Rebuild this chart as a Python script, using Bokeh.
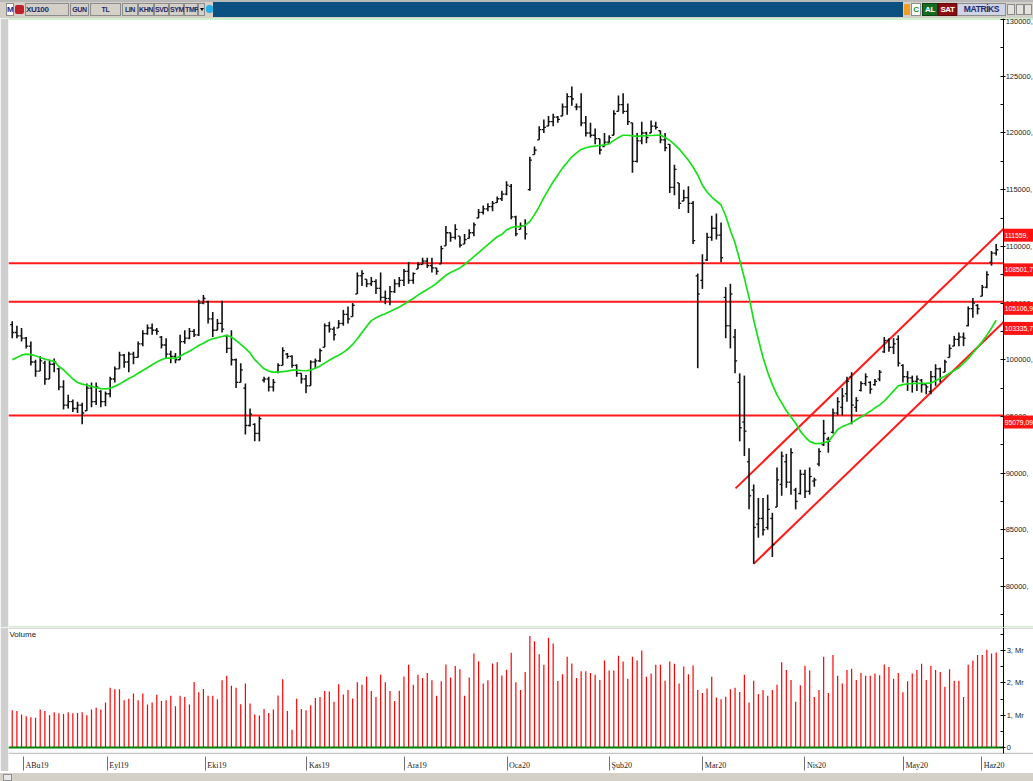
from bokeh.plotting import figure
from bokeh.models import (Range1d, FixedTicker, Label, LabelSet, ColumnDataSource, Div,
                          LinearAxis)
from bokeh.core.properties import value
from bokeh.layouts import column
from bokeh.embed import file_html
from bokeh.resources import INLINE

# ---------------- data ----------------
opens = [
    103100, 102400, 102100, 101900, 101200, 99800, 99000, 99700, 98300, 99600,
    99200, 97600, 96000, 96300, 95700, 96000, 95500, 97500, 96300, 97200,
    96300, 97000, 98300, 99200, 100400, 99800, 100500, 100200, 101400, 102300,
    102800, 102600, 102000, 101300, 100500, 100300, 100000, 101600, 101900, 102500,
    102200, 105000, 105100, 103600, 102600, 103200, 102100, 101000, 100000, 98000,
    97500, 94200, 94300, 93500, 98200, 98300, 97600, 98900, 99500, 100500,
    100300, 99500, 98800, 98300, 97700, 99800, 99900, 101100, 103000, 102700,
    102800, 103200, 104000, 103800, 105800, 107400, 107100, 106700, 106900, 106300,
    105500, 105400, 106000, 106700, 107000, 107800, 107000, 108000, 108400, 108700,
    108300, 108100, 108450, 110050, 111200, 110800, 110900, 110200, 110700, 111200,
    112500, 113000, 113300, 113500, 113850, 114200, 114600, 115300, 112600, 111500,
    111800, 115000, 118100, 119400, 120300, 120600, 121000, 121400, 121500, 122300,
    123200, 122300, 122300, 120900, 120000, 119800, 119500, 118800, 119200, 119800,
    121900, 122500, 121900, 120900, 117500, 119300, 120000, 120000, 120600, 120200,
    119400, 119000, 115200, 115600, 114000, 114300, 113800, 107400, 107000, 108800,
    110800, 111600, 111000, 105500, 103000, 102000, 98000, 94500, 91000, 88500,
    85500, 86000, 85200, 86000, 87000, 89000, 91000, 89200, 88500, 88200,
    89900, 88400, 89300, 90800, 92500, 93000, 93600, 95300, 95800, 97000,
    98500, 95800, 97300, 97900, 98000, 97800, 98300, 100700, 101700, 101100,
    101800, 99500, 98500, 98400, 98100, 98200, 97800, 97200, 98500, 99200,
    98900, 100200, 101200, 101800, 102000, 103000, 104500, 104800, 105600, 106400,
    108600, 109400,
]
highs = [
    103400, 103000, 102800, 102000, 101600, 100000, 100300, 99900, 100000, 100100,
    99300, 98200, 96900, 96500, 96300, 96200, 97900, 98000, 98000, 97300,
    97200, 98500, 99400, 100700, 100500, 100700, 100700, 101600, 102600, 103100,
    103200, 102800, 102100, 101900, 100800, 100600, 102200, 102600, 102800, 102700,
    105300, 105700, 105200, 104200, 103600, 105200, 102200, 102600, 100100, 99700,
    97900, 95700, 94400, 95000, 98500, 98500, 98300, 99700, 101100, 100600,
    100400, 99600, 98800, 98650, 99950, 100100, 101000, 103200, 103350, 102900,
    103500, 104400, 104700, 105000, 107700, 107900, 107100, 107300, 107100, 107700,
    106100, 106500, 107100, 107300, 108000, 108600, 107700, 108600, 109000, 109000,
    109000, 108100, 110050, 111800, 111200, 111950, 110900, 111100, 111500, 112100,
    113300, 113600, 113800, 114000, 114400, 114900, 115750, 115500, 112700, 112100,
    112400, 117900, 118800, 120600, 121200, 121500, 121700, 121500, 122600, 123500,
    124100, 122600, 123500, 121500, 120900, 120400, 119500, 120000, 119800, 122000,
    123300, 123500, 122600, 120900, 120000, 121000, 120100, 121100, 121000, 120200,
    120000, 119000, 117200, 115600, 115000, 115300, 114000, 107600, 109300, 111200,
    112700, 112900, 112100, 106400, 106700, 102700, 98800, 98600, 92200, 89000,
    87800, 87800, 88100, 86500, 90500, 91900, 91700, 92200, 88700, 90300,
    90300, 90500, 89600, 92200, 94700, 93200, 95700, 96700, 97500, 98500,
    98900, 96700, 98100, 98800, 98100, 98300, 99100, 102000, 101900, 101900,
    102150, 99600, 99000, 98600, 98600, 98300, 97800, 99000, 99600, 99300,
    100000, 101350, 102100, 102400, 102400, 104700, 105450, 104900, 106600, 107800,
    109600, 110200,
]
lows = [
    101900, 101900, 101600, 101000, 99500, 98500, 99000, 97800, 98300, 98900,
    97300, 95600, 95700, 95400, 95300, 94300, 95500, 95800, 96000, 95800,
    95900, 96700, 98000, 99200, 99300, 98900, 99600, 100200, 101200, 102200,
    102200, 102200, 101000, 100100, 99700, 99700, 100000, 101400, 101800, 102000,
    102100, 104900, 103200, 102000, 102600, 102400, 100600, 99500, 97500, 98000,
    93400, 94100, 92800, 92800, 98000, 97200, 97200, 98800, 99500, 100100,
    99300, 98500, 97900, 97050, 97700, 99200, 99800, 101100, 102400, 101700,
    102800, 103000, 103200, 103800, 105800, 106500, 106400, 106500, 105800, 105200,
    104900, 104800, 105900, 106400, 106500, 106700, 106700, 108000, 108400, 108100,
    107700, 107500, 108450, 110050, 110400, 110600, 109900, 110200, 110700, 110900,
    112500, 112800, 113100, 113100, 113850, 114000, 114500, 112400, 110900, 111500,
    110600, 114900, 118100, 119400, 120000, 120600, 120600, 120900, 121500, 121600,
    122400, 122000, 120600, 119700, 119600, 119000, 118100, 118800, 119000, 119800,
    121900, 121700, 120700, 116500, 117400, 119000, 119100, 120000, 120300, 119100,
    118400, 114700, 114500, 113300, 114000, 112950, 110200, 99250, 106250, 108700,
    110500, 110600, 108600, 101900, 101000, 98800, 92800, 91500, 86800, 82000,
    84300, 84500, 85000, 82600, 87000, 88000, 88700, 88100, 86800, 88100,
    87800, 88100, 88800, 90600, 92400, 91800, 93500, 95100, 95100, 96300,
    94300, 95400, 97200, 97700, 97000, 97700, 98100, 100600, 100700, 100500,
    99400, 98000, 97250, 97100, 97250, 97100, 96950, 96950, 97700, 98000,
    98900, 100200, 101200, 101200, 101200, 102950, 103700, 104000, 105600, 106300,
    108300, 109200,
]
closes = [
    102400, 102100, 101900, 101200, 99800, 99000, 99900, 98300, 99600, 99800,
    97600, 96000, 96300, 95700, 96000, 95300, 97500, 96300, 97600, 96300,
    97000, 98300, 99200, 100400, 99800, 100500, 100200, 101400, 102300, 102800,
    102600, 102500, 101300, 100500, 100300, 100000, 101600, 101900, 102500, 102200,
    105000, 105400, 103600, 102600, 103200, 102700, 101000, 100000, 98000, 99100,
    94200, 95200, 93500, 94800, 98300, 97600, 98000, 99500, 100800, 100300,
    99500, 98800, 98300, 97700, 99800, 99900, 100800, 103000, 102700, 102200,
    103200, 104000, 103600, 104800, 107400, 107600, 106700, 106900, 106300, 105500,
    105400, 106000, 106700, 107000, 107800, 107000, 107600, 108400, 108700, 108300,
    108100, 107800, 109800, 111200, 110800, 111500, 110100, 110600, 111200, 111900,
    113000, 113300, 113500, 113800, 114200, 114600, 115400, 112600, 111100, 111800,
    111100, 117600, 118500, 120300, 120500, 121000, 121400, 121200, 122300, 123200,
    123000, 122300, 120900, 120000, 119800, 119500, 118500, 119200, 119600, 121700,
    122500, 121900, 121000, 117500, 119300, 120000, 119600, 120600, 120500, 119400,
    118700, 115200, 116800, 113800, 114300, 113800, 110500, 105800, 108500, 110800,
    111600, 111000, 109000, 103000, 105800, 99900, 94000, 93700, 88000, 85200,
    86000, 85000, 86800, 83700, 89400, 91500, 89200, 91800, 87500, 89900,
    88400, 89700, 89400, 91900, 93500, 92800, 95300, 96300, 96800, 98100,
    96000, 96400, 97900, 98500, 97400, 98100, 98900, 101700, 101100, 101400,
    99700, 98500, 98400, 98100, 98300, 97800, 97600, 98500, 99200, 98400,
    99800, 101000, 101800, 102000, 101900, 104500, 105000, 104500, 106400, 107500,
    109400, 109700,
]
moving_avg = [
    100000, 100200, 100400, 100500, 100450, 100350, 100200, 100050, 99950, 99850,
    99400, 99100, 98700, 98300, 98000, 97850, 97750, 97650, 97550, 97450,
    97430, 97480, 97650, 97850, 98100, 98350, 98550, 98800, 99050, 99300,
    99550, 99800, 100000, 100150, 100150, 100120, 100300, 100550, 100750, 101000,
    101250, 101450, 101700, 101850, 101950, 102050, 102150, 102000, 101700, 101350,
    101000, 100600, 100000, 99600, 99200, 99000, 98900, 98900, 98950, 99000,
    99090, 99090, 99050, 99030, 99090, 99250, 99450, 99700, 99950, 100200,
    100400, 100650, 100950, 101350, 101850, 102400, 102950, 103450, 103700, 103900,
    104050, 104250, 104450, 104650, 104900, 105150, 105400, 105700, 105950, 106200,
    106450, 106750, 107100, 107450, 107700, 107900, 108100, 108400, 108750, 109100,
    109450, 109800, 110150, 110500, 110850, 111050, 111450, 111650, 111750, 111750,
    111850, 112200, 112800, 113500, 114300, 115000, 115700, 116300, 116900, 117400,
    117900, 118250, 118550, 118700, 118800, 118850, 118900, 118950, 119050, 119350,
    119600, 119800, 119800, 119750, 119700, 119750, 119760, 119780, 119800, 119820,
    119600, 119350, 119000, 118600, 118100, 117600, 117000, 116300, 115400, 114800,
    114350, 114000, 113650, 112700, 111400, 110300, 108800, 107200, 105500, 103500,
    101800, 100200, 98900, 97800, 96900, 96200, 95500, 94950, 94400, 93700,
    93200, 92800, 92620, 92600, 92680, 92800, 93300, 93850, 94100, 94260,
    94450, 94700, 94950, 95200, 95450, 95750, 96020, 96350, 96800, 97250,
    97690, 97800, 97880, 97900, 97920, 97920, 97920, 97950, 98150, 98360,
    98550, 98800, 99050, 99300, 99700, 100100, 100600, 101100, 101600, 102170,
    102800, 103480,
]
volumes_mr = [
    1.15, 1.13, 1.02, 0.97, 0.94, 0.92, 1.18, 1.13, 1.00, 1.09,
    1.06, 1.04, 1.09, 1.06, 1.07, 1.09, 1.00, 1.18, 1.23, 1.18,
    1.39, 1.85, 1.80, 1.80, 1.46, 1.51, 1.67, 1.46, 1.67, 1.33,
    1.39, 1.63, 1.44, 1.46, 1.60, 1.28, 1.60, 1.56, 1.33, 2.03,
    1.71, 1.81, 1.60, 1.60, 1.49, 2.08, 2.22, 1.91, 1.85, 1.34,
    1.98, 1.36, 1.02, 0.99, 1.19, 1.07, 1.18, 1.61, 2.11, 1.13,
    0.55, 1.51, 1.19, 1.15, 1.31, 1.53, 1.56, 1.75, 1.73, 1.42,
    1.96, 1.64, 1.78, 1.52, 2.02, 1.94, 2.20, 1.75, 1.56, 2.25,
    2.02, 1.75, 1.44, 1.76, 2.20, 2.56, 1.94, 2.25, 2.15, 2.31,
    2.08, 1.60, 2.05, 2.57, 2.17, 2.52, 2.42, 1.60, 2.17, 2.91,
    2.67, 1.98, 2.08, 2.60, 2.64, 2.23, 2.41, 2.93, 2.02,
    1.78, 2.34, 3.45, 3.29, 2.89, 2.56, 3.40, 3.22, 2.06, 2.27,
    2.81, 2.60, 2.15, 2.36, 2.36, 2.31, 2.25, 2.09, 2.69, 2.38,
    2.38, 2.84, 2.66, 2.13, 2.81, 2.69, 3.00, 2.19, 2.29, 2.56,
    2.56, 2.07, 2.66, 2.59, 1.98, 2.51, 2.27, 2.54, 1.78, 1.69,
    1.83, 2.19, 1.55, 1.49, 1.57, 1.80, 1.85, 1.72, 2.25, 1.39,
    2.07, 1.66, 1.78, 1.60, 1.78, 1.94, 2.64, 2.40, 2.09, 1.42,
    1.93, 2.53, 2.38, 1.56, 1.78, 2.81, 1.69, 2.86, 2.22, 1.98,
    2.40, 2.44, 2.09, 2.31, 2.22, 2.22, 2.29, 2.24, 2.57, 2.49,
    2.13, 2.31, 1.71, 2.05, 2.29, 2.40, 2.59, 2.09, 2.53, 2.40,
    2.34, 1.88, 2.42, 2.07, 2.07, 1.56, 2.56, 2.69, 2.86, 2.86,
    3.03, 2.91, 2.94,
]
month_labels = ["ABu19", "Eyl19", "Eki19", "Kas19", "Ara19", "Oca20",
                "Şub20", "Mar20", "Nis20", "May20", "Haz20"]
month_ticks = [2.4, 20.4, 41.4, 63.2, 84.2, 106.1, 128.1, 148.1, 170.0, 191.1, 207.9]
price_ticks = [80000, 85000, 90000, 95000, 100000, 105000, 110000, 115000, 120000, 125000, 130000]
price_tick_labels = ["80000,", "85000,", "90000,", "95000,", "100000,", "105000,",
                     "110000,", "115000,", "120000,", "125000,", "130000,"]
volume_ticks = [0, 1, 2, 3]
volume_tick_labels = ["0", "1, Mr", "2, Mr", "3, Mr"]
level_values = [108501.7, 105106.9, 95079.09]
channel_x0 = [155.1, 159.0]
channel_y0 = [88650, 82000]
channel_x1 = [212.6, 212.6]
channel_y1 = [111559, 103335.7]
tag_values = [111559, 108501.7, 105106.9, 103335.7, 95079.09]
tag_texts = ["111559,", "108501,7", "105106,9", "103335,7", "95079,09"]
header_left = ["XU100", "GUN", "TL", "LIN", "KHN", "SVD", "SYM", "TMP"]
header_right = ["AL", "SAT", "MATRİKS"]

n = len(closes)
assert len(opens) == n and len(highs) == n and len(lows) == n
assert len(moving_avg) == n and len(volumes_mr) == n

FONT = "Liberation Sans"
idx = list(range(n))
AXIS_X = 212.6                      # where the price scale sits (bar-index units)
x_range = Range1d(-0.8, 219.0)
y_range = Range1d(76380, 130100)
MAIN_H = 609
UNITS_PER_PX = (y_range.end - y_range.start) / MAIN_H

# ---------------- header (toolbar strip) ----------------
def box(left, width, text, bg="#d4d0c8", fg="#1b2a6b", border="#8c8c8c",
        align="center", size=7.5):
    return (f'<div style="position:absolute;left:{left}px;top:3px;width:{width}px;height:13px;'
            f'background:{bg};color:{fg};border:1px solid {border};box-sizing:border-box;'
            f'font-weight:bold;font-size:{size}px;letter-spacing:-0.4px;text-align:{align};'
            f'line-height:11px;white-space:nowrap;">{text}</div>')

lpos = [(25, 44), (70, 19), (90, 31), (122, 16), (138, 16), (154, 15), (169, 15), (184, 14)]
parts = ['<div style="position:relative;width:1033px;height:18px;background:#d4d0c8;overflow:hidden;'
         f"font-family:'{FONT}',sans-serif;\">",
         '<div style="position:absolute;left:0;top:0;width:1033px;height:2px;background:#b8b8b8;"></div>',
         '<div style="position:absolute;left:213px;top:2px;width:690px;height:15px;background:#0b5080;"></div>',
         box(6, 8, "M", bg="#ffffff", fg="#1b2a8b", size=8),
         '<div style="position:absolute;left:15px;top:5px;width:9px;height:9px;background:#c0202a;border-radius:2px;"></div>']
for (l, w), t in zip(lpos, header_left):
    parts.append(box(l, w, t, align="left" if t == "XU100" else "center",
                     size=8 if t == "XU100" else 7))
parts.append('<div style="position:absolute;left:198px;top:3px;width:7px;height:13px;background:#d4d0c8;'
             'border:1px solid #8c8c8c;box-sizing:border-box;"><div style="margin:4px auto 0 auto;width:0;height:0;'
             'border-left:2px solid transparent;border-right:2px solid transparent;border-top:3px solid #000;"></div></div>')
parts.append('<div style="position:absolute;left:206px;top:5px;width:7px;height:8px;background:#2ab0e8;border-radius:3px;"></div>')
parts.append('<div style="position:absolute;left:904px;top:4px;width:6px;height:11px;background:#f0a020;"></div>')
parts.append(box(911, 10, "C", bg="#ffffff", fg="#1a8a2a", size=8))
parts.append(box(922, 16, header_right[0], bg="#146b24", fg="#ffffff", border="#0c4416", size=8))
parts.append(box(938, 19, header_right[1], bg="#8e0f12", fg="#ffffff", border="#5c0a0c", size=8))
parts.append(box(957, 49, header_right[2], bg="#cfd3e6", fg="#1b2a6b", size=8.5))
for l in (1007, 1016, 1024):
    parts.append(f'<div style="position:absolute;left:{l}px;top:4px;width:8px;height:11px;'
                 'background:#e4e2dc;border:1px solid #8c8c8c;box-sizing:border-box;"></div>')
parts.append('</div>')
header = Div(text="".join(parts), width=1033, height=18, margin=(0, 0, 0, 0))

# ---------------- price panel ----------------
p = figure(width=1033, height=MAIN_H, x_range=x_range, y_range=y_range,
           output_backend="svg", toolbar_location=None, x_axis_location=None,
           y_axis_location=None, min_border_left=8, min_border_right=0,
           min_border_top=0, min_border_bottom=0)
p.xgrid.visible = False
p.ygrid.visible = False
p.outline_line_color = None
p.border_fill_color = "#cfcfcf"
p.background_fill_color = "white"

start = x_range.start
# light green frame lines top and bottom
p.segment(x0=[start, start], y0=[y_range.end, y_range.start], x1=[x_range.end, x_range.end],
          y1=[y_range.end, y_range.start], line_color="#9fe09f", line_width=2)

yax = LinearAxis(fixed_location=AXIS_X)
yax.ticker = FixedTicker(ticks=price_ticks, minor_ticks=[t + 2500 for t in price_ticks[:-1]] + [77500])
yax.major_label_overrides = dict(zip(price_ticks, price_tick_labels))
yax.major_label_text_font = FONT
yax.major_label_text_font_size = "7.5px"
yax.major_label_text_color = "#222222"
yax.major_label_standoff = 0
yax.major_tick_in = 3
yax.major_tick_out = 2
yax.minor_tick_in = 3
yax.minor_tick_out = 0
yax.axis_line_color = "#000000"
p.add_layout(yax, "right")

p.segment(x0=[start] * len(level_values), y0=level_values,
          x1=[AXIS_X] * len(level_values), y1=level_values,
          line_color="#ff1a1a", line_width=2)
p.segment(x0=channel_x0, y0=channel_y0, x1=channel_x1, y1=channel_y1,
          line_color="#ff1a1a", line_width=2)

src = ColumnDataSource(dict(x=idx, xl=[i - 0.45 for i in idx], xr=[i + 0.45 for i in idx],
                            o=opens, h=highs, l=lows, c=closes))
p.segment("x", "l", "x", "h", source=src, line_color="#111111", line_width=1.6)
p.segment("xl", "o", "x", "o", source=src, line_color="#111111", line_width=1.3)
p.segment("x", "c", "xr", "c", source=src, line_color="#111111", line_width=1.3)

p.line(idx, moving_avg, line_color="#18e018", line_width=1.7)

# red price tags at the right edge, drawn above the scale
tag_h = 13 * UNITS_PER_PX
tsrc = ColumnDataSource(dict(left=[AXIS_X] * len(tag_values), right=[x_range.end] * len(tag_values),
                             top=tag_values, bottom=[v - tag_h for v in tag_values],
                             mid=[v - tag_h / 2 for v in tag_values], t=tag_texts))
p.quad(left="left", right="right", top="top", bottom="bottom", source=tsrc,
       fill_color="#ff1414", line_color=None, level="overlay")
p.text(x="left", y="mid", text="t", source=tsrc, x_offset=1, text_font=value(FONT),
       text_font_size="6.8px", text_color="white", text_baseline="middle",
       text_align="left", level="overlay")

# ---------------- volume panel ----------------
pv = figure(width=1033, height=144, x_range=x_range, y_range=Range1d(-0.743, 3.715),
            output_backend="svg", toolbar_location=None, x_axis_location=None,
            y_axis_location=None, min_border_left=8, min_border_right=0,
            min_border_top=0, min_border_bottom=0)
pv.xgrid.visible = False
pv.ygrid.visible = False
pv.outline_line_color = None
pv.border_fill_color = "#cfcfcf"
pv.background_fill_color = "white"

pv.segment(x0=idx, y0=[0] * n, x1=idx, y1=volumes_mr, line_color="#ff0000", line_width=1.2)
pv.segment(x0=[start], y0=[0], x1=[AXIS_X], y1=[0], line_color="#008000", line_width=2)
pv.segment(x0=[start], y0=[-0.18], x1=[x_range.end], y1=[-0.18], line_color="#b4b4b4", line_width=1)
pv.segment(x0=[start], y0=[3.70], x1=[x_range.end], y1=[3.70], line_color="#b4b4b4", line_width=1)

vax = LinearAxis(fixed_location=AXIS_X, bounds=(-0.18, 3.715))
vax.ticker = FixedTicker(ticks=volume_ticks, minor_ticks=[0.5, 1.5, 2.5, 3.5])
vax.major_label_overrides = dict(zip(volume_ticks, volume_tick_labels))
vax.major_label_text_font = FONT
vax.major_label_text_font_size = "7.5px"
vax.major_label_text_color = "#222222"
vax.major_label_standoff = 1
vax.major_tick_in = 3
vax.major_tick_out = 2
vax.minor_tick_in = 3
vax.minor_tick_out = 0
vax.axis_line_color = "#000000"
pv.add_layout(vax, "right")

xax = LinearAxis(fixed_location=-0.28)
xax.ticker = FixedTicker(ticks=month_ticks)
xax.major_label_text_color = None
xax.major_tick_in = 0
xax.major_tick_out = 14
xax.minor_tick_line_color = None
xax.major_tick_line_color = "#707070"
xax.axis_line_color = None
pv.add_layout(xax, "below")

msrc = ColumnDataSource(dict(x=month_ticks, y=[-0.56] * len(month_ticks), t=month_labels))
pv.add_layout(LabelSet(x="x", y="y", text="t", source=msrc, x_offset=2,
                       text_font=FONT, text_font_size="8px", text_color="#222222",
                       text_baseline="middle", text_align="left"))
pv.add_layout(Label(x=-0.6, y=3.5, text="Volume", text_font=FONT, text_font_size="8px",
                    text_color="#222222", text_baseline="middle", text_align="left"))

footer = Div(text='<div style="width:1033px;height:10px;background:#d4d0c8;position:relative;">'
                  '<div style="position:absolute;left:3px;top:1px;width:9px;height:7px;'
                  'border:1px solid #909090;background:#e8e8e8;"></div></div>',
             width=1033, height=10, margin=(0, 0, 0, 0))

layout = column(header, p, pv, footer, spacing=0)
open("out.html", "w").write(file_html(layout, INLINE))
